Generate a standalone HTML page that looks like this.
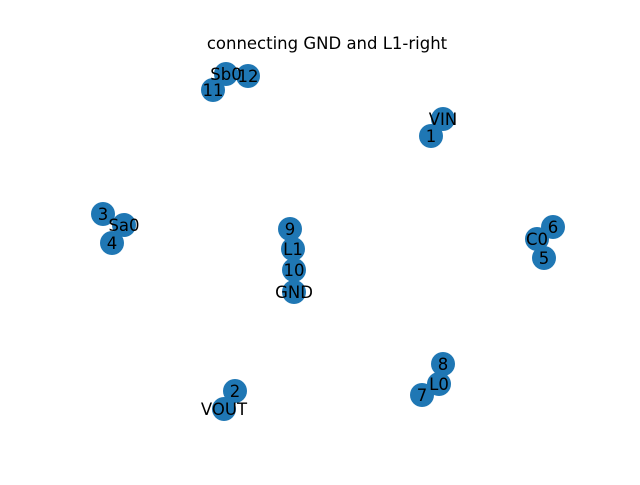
<!DOCTYPE html>
<html><head><meta charset="utf-8"><style>
body{margin:0;background:#fff}
svg text{font-family:"DejaVu Sans","Liberation Sans",sans-serif;}
</style></head><body>
<svg width="640" height="480" viewBox="0 0 640 480">
<rect width="640" height="480" fill="#fff"/>
<text x="327" y="49" text-anchor="middle" font-size="16.5">connecting GND and L1-right</text>
<g id="nodes"></g>
<g id="labels"></g>
</svg>
<script>
const nodeNames = ["Sb0","12","11","VIN","1","3","Sa0","4","9","L1","10","GND","6","C0","5","8","L0","7","2","VOUT"];
const nodeX = [226,248,213,443,431,103,124,112,290,293,294,294,553,537,544,443,439,422,235,224];
const nodeY = [74,76,90,119,136,214,225,243,229,249,270,292,227,239,258,364,384,395,391,409];
const ns = "http://www.w3.org/2000/svg";
const gn = document.getElementById('nodes'), gl = document.getElementById('labels');
nodeNames.forEach((n,i)=>{
  const c = document.createElementNS(ns,'circle');
  c.setAttribute('cx',nodeX[i]); c.setAttribute('cy',nodeY[i]); c.setAttribute('r',12);
  c.setAttribute('fill','#1f77b4');
  
  
  gn.appendChild(c);
  const t = document.createElementNS(ns,'text');
  t.setAttribute('x',nodeX[i]); t.setAttribute('y',nodeY[i]+6);
  t.setAttribute('text-anchor','middle'); t.setAttribute('font-size','16.5');
  t.textContent = n;
  
  
  gl.appendChild(t);
});
</script>
</body></html>
